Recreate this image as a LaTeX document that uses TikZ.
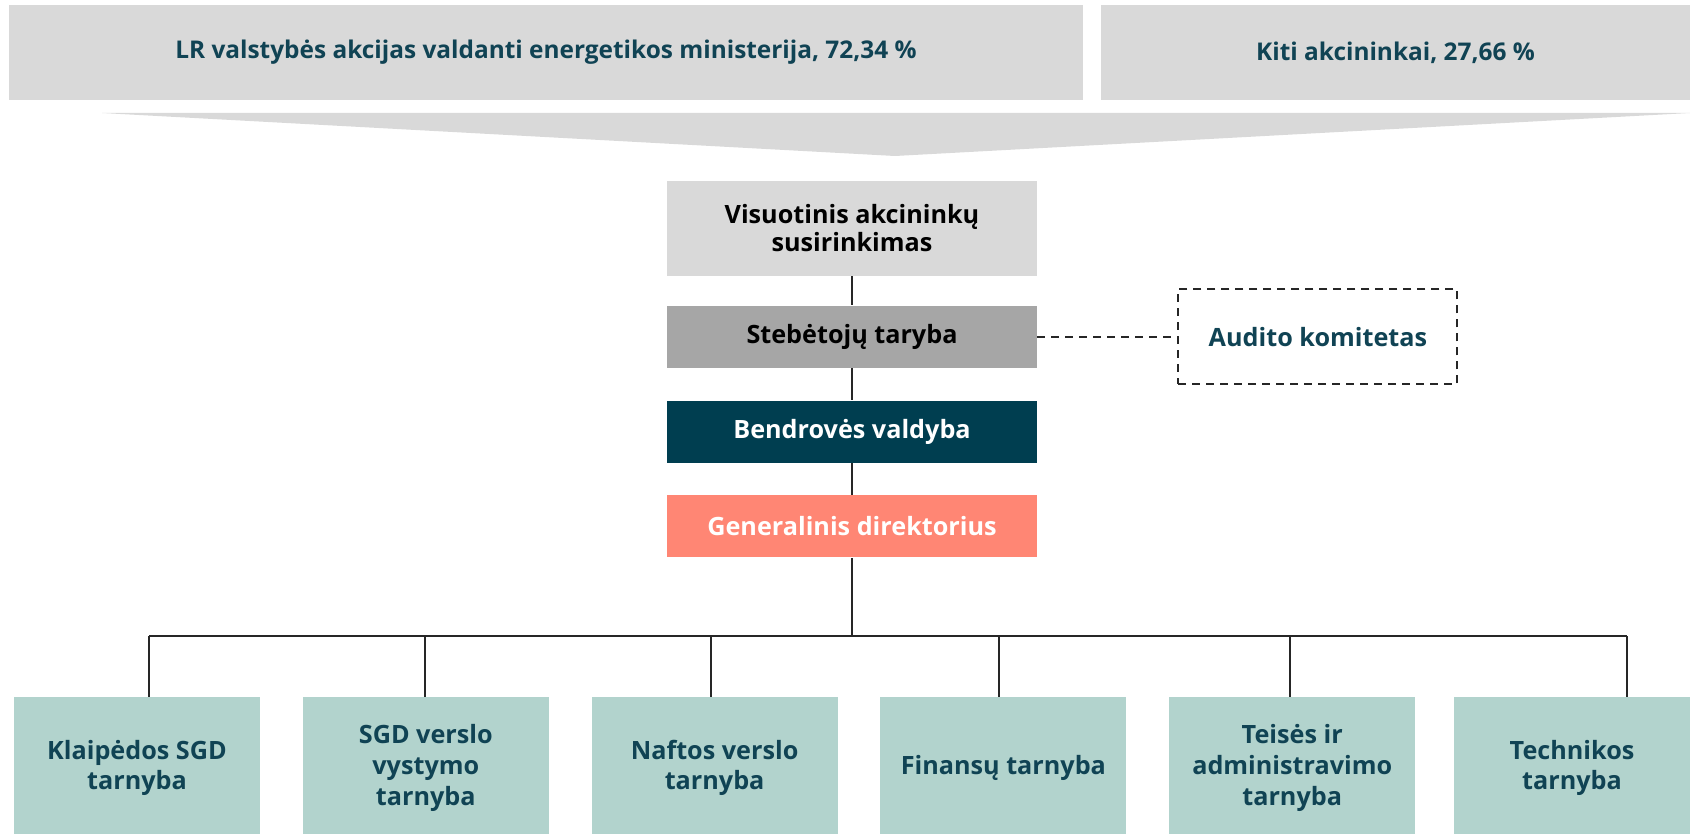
\documentclass[tikz,border=0pt]{standalone}
\usepackage{fontspec}
\setmainfont{Open Sans}
\usepackage{tikz}
\usetikzlibrary{positioning}
\definecolor{lgray}{RGB}{217,217,217}
\definecolor{mgray}{RGB}{166,166,166}
\definecolor{navy}{RGB}{0,62,80}
\definecolor{salmon}{RGB}{255,134,116}
\definecolor{mint}{RGB}{178,211,205}
\definecolor{deep}{RGB}{16,67,84}

\begin{document}
\begin{tikzpicture}[x=0.5pt,y=-0.5pt,
  box/.style={rectangle,align=center,inner sep=0pt,font=\bfseries\fontsize{12.6}{14}\selectfont},
  owner/.style={box,fill=lgray,text=deep,minimum height=47.5pt,font=\bfseries\fontsize{12.2}{14}\selectfont},
  mid/.style={box,minimum width=185pt,minimum height=31pt},
  unit/.style={box,fill=mint,text=deep,minimum width=123pt,minimum height=71pt,font=\bfseries\fontsize{12.6}{15.3}\selectfont},
  line/.style={draw=black!85,line width=1pt},
  dline/.style={draw=black!85,line width=1pt,dash pattern=on 4pt off 3pt},
  node distance=16pt]
\useasboundingbox (0,0) rectangle (1690,834);

\node[owner,minimum width=537pt] (lr) at (546,52.5) {LR valstybės akcijas valdanti energetikos ministerija, 72,34 \%};
\node[owner,minimum width=294.5pt] (kiti) at (1395.5,52.5) {Kiti akcininkai, 27,66 \%};
\fill[lgray] (102,113) -- (1690,113) -- (895,156) -- cycle;

\node[mid,fill=lgray,minimum height=47.5pt] (vas) at (852,228.5) {Visuotinis akcininkų\\susirinkimas};
\node[mid,fill=mgray] (st) [below=14.5pt of vas] {Stebėtojų taryba};
\node[mid,fill=navy,text=white] (bv) [below=of st] {Bendrovės valdyba};
\node[mid,fill=salmon,text=white] (gd) [below=of bv] {Generalinis direktorius};
\node[box,dline,text=deep,minimum width=139.5pt,minimum height=47.5pt] (ak) [right=70pt of st] {Audito komitetas};

\node[unit] (t1) at (137,768) {Klaipėdos SGD\\tarnyba};
\node[unit] (t2) [right=21pt of t1] {SGD verslo\\vystymo\\tarnyba};
\node[unit] (t3) [right=21pt of t2] {Naftos verslo\\tarnyba};
\node[unit] (t4) [right=21pt of t3] {Finansų tarnyba};
\node[unit] (t5) [right=21pt of t4] {Teisės ir\\administravimo\\tarnyba};
\node[unit,minimum width=118pt] (t6) at (1572,768) {Technikos\\tarnyba};

\coordinate (bar) at (852,636);
\coordinate (d1) at (149,636);
\coordinate (d2) at (425,636);
\coordinate (d3) at (711,636);
\coordinate (d4) at (999,636);
\coordinate (d5) at (1290,636);
\coordinate (d6) at (1627,636);

\draw[line] (vas) -- (st) -- (bv) -- (gd);
\draw[dline] (st) -- (ak);
\draw[line] (gd.south) -- (bar);
\draw[line] (d1) -- (d6);
\draw[line] (d1) -- (d1 |- t1.north);
\draw[line] (d2) -- (d2 |- t2.north);
\draw[line] (d3) -- (d3 |- t3.north);
\draw[line] (d4) -- (d4 |- t4.north);
\draw[line] (d5) -- (d5 |- t5.north);
\draw[line] (d6) -- (d6 |- t6.north);
\end{tikzpicture}
\end{document}
